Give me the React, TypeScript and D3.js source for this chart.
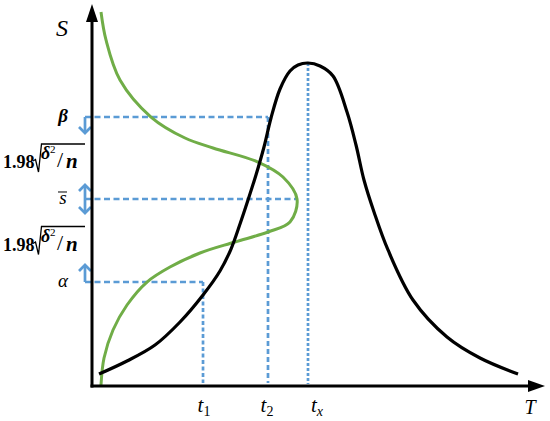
import React from "react";
import * as d3 from "d3";

const W = 550;
const H = 421;

// black curve (T, S) in data units
const blackT = [1.56, 7.78, 14.0, 19.56, 24.67, 28.44, 30.89, 32.89, 34.67, 36.44, 38.22, 39.78, 41.78, 44.0, 45.78, 48.0, 50.67, 53.56, 56.67, 58.67, 60.44, 62.67, 65.78, 71.33, 78.89, 86.22, 94.67];
const blackS = [3.2, 6.67, 10.93, 17.07, 24.27, 30.67, 36.53, 43.2, 49.6, 56.27, 63.73, 71.47, 79.2, 84.0, 85.6, 86.13, 85.33, 82.67, 73.07, 64.27, 54.93, 46.4, 36.27, 22.93, 13.07, 7.47, 3.2];

// green distribution curve (T, S)
const greenT = [2.0, 3.11, 6.22, 13.11, 20.67, 26.89, 36.89, 42.44, 45.56, 44.0, 39.11, 31.78, 24.0, 17.33, 12.22, 7.78, 4.67, 2.67, 2.0];
const greenS = [99.73, 92.27, 81.6, 71.73, 66.13, 63.47, 59.73, 55.73, 49.87, 43.73, 41.07, 38.4, 35.47, 31.73, 27.73, 21.6, 14.93, 7.47, 0.27];

// levels on S axis
const levelNames = ["β", "s", "α"];
const levelValues = [71.73, 49.87, 27.73];

// times on T axis
const timeSubs = ["1", "2", "x"];
const timeValues = [24.67, 39.11, 48.0];

const axisNames = ["S", "T"];
const marginParts = ["1.98", "δ", "2", "/", "n"];

const BLUE = "#5B9BD5";
const GREEN = "#70AD47";
const FONT = "'Liberation Serif', serif";

export default function App() {
  const x = d3.scaleLinear().domain([0, 100]).range([92, 542]);
  const y = d3.scaleLinear().domain([0, 100]).range([386, 11]);
  const line = d3
    .line<[number, number]>()
    .x((d) => x(d[0]))
    .y((d) => y(d[1]))
    .curve(d3.curveCatmullRom.alpha(0.5));

  const blackPts = blackT.map((t, i) => [t, blackS[i]] as [number, number]);
  const greenPts = greenT.map((t, i) => [t, greenS[i]] as [number, number]);

  const x0 = x(0);
  const y0 = y(0);
  const ax = x0 - 7; // annotation arrow column

  const [betaV, sV, alphaV] = levelValues;
  const [t1, t2, tx] = timeValues;
  const peakS = d3.max(blackS) as number;
  const greenPeakT = d3.max(greenT) as number;

  const chev = (cx: number, cy: number, dir: number) =>
    `M${cx - 6},${cy - 6 * dir} L${cx},${cy} L${cx + 6},${cy - 6 * dir}`;

  const mid1 = (y(betaV) + y(sV)) / 2;
  const mid2 = (y(sV) + y(alphaV)) / 2;

  const marginLabel = (m: number, key: string) => {
    const over = m - 14;
    const base = m + 10;
    return (
      <g key={key}>
        <text x={3} y={base} fontFamily={FONT} fontWeight="bold" fontSize={18}>
          {marginParts[0]}
        </text>
        <path
          d={`M33,${base - 7} L35.5,${base - 8.5} L38.5,${base + 4} L41.5,${over} L85,${over}`}
          fill="none"
          stroke="#000"
          strokeWidth={1.3}
        />
        <text x={41} y={base - 9} fontFamily={FONT} fontStyle="italic" fontWeight="bold" fontSize={18}>
          {marginParts[1]}
        </text>
        <text x={50} y={base - 15} fontFamily={FONT} fontSize={11}>
          {marginParts[2]}
        </text>
        <text x={57} y={base - 1} fontFamily={FONT} fontSize={22}>
          {marginParts[3]}
        </text>
        <text x={66} y={base} fontFamily={FONT} fontStyle="italic" fontWeight="bold" fontSize={21}>
          {marginParts[4]}
        </text>
      </g>
    );
  };

  const levelDy = [5, 5, 5];
  const timeDx = [1, -1, 9];

  return (
    <svg
      width={W}
      height={H}
      viewBox={`0 0 ${W} ${H}`}
      style={{ position: "absolute", left: 0, top: 0, background: "#fff" }}
    >
      {/* dashed guide lines */}
      <g stroke={BLUE} strokeWidth={2.7} fill="none">
        <line x1={ax} x2={x(t2)} y1={y(betaV)} y2={y(betaV)} strokeDasharray="6 3.5" />
        <line x1={ax} x2={x(greenPeakT)} y1={y(sV)} y2={y(sV)} strokeDasharray="6 3.5" />
        <line x1={ax} x2={x(t1)} y1={y(alphaV)} y2={y(alphaV)} strokeDasharray="6 3.5" />
        <line x1={x(t1)} x2={x(t1)} y1={y(alphaV)} y2={y0 - 3} strokeDasharray="4 2.5" />
        <line x1={x(t2)} x2={x(t2)} y1={y(betaV)} y2={y0 - 3} strokeDasharray="5 3" />
        <line x1={x(tx)} x2={x(tx)} y1={y(peakS)} y2={y0 - 2} strokeDasharray="3 2" />
        {/* annotation arrows */}
        <line x1={ax} x2={ax} y1={y(betaV)} y2={y(betaV) + 16} />
        <path d={chev(ax, y(betaV) + 16, 1)} />
        <line x1={ax} x2={ax} y1={y(sV) - 14} y2={y(sV) + 14} />
        <path d={chev(ax, y(sV) - 14, -1)} />
        <path d={chev(ax, y(sV) + 14, 1)} />
        <line x1={ax} x2={ax} y1={y(alphaV)} y2={y(alphaV) - 17} />
        <path d={chev(ax, y(alphaV) - 17, -1)} />
      </g>

      {/* curves */}
      <path d={line(greenPts) || ""} fill="none" stroke={GREEN} strokeWidth={3} />
      <path d={line(blackPts) || ""} fill="none" stroke="#000" strokeWidth={3.2} />

      {/* axes */}
      <g>
        <line x1={x0} x2={x0} y1={y0 + 1.5} y2={y(100) + 8} stroke="#000" strokeWidth={3} />
        <polygon points={`${x0},${y(100) - 7} ${x0 - 6},${y(100) + 11} ${x0 + 6},${y(100) + 11}`} fill="#000" />
        <line x1={x0 - 1.5} x2={x(100) - 12} y1={y0} y2={y0} stroke="#000" strokeWidth={3} />
        <polygon points={`${x(100) + 3},${y0} ${x(100) - 14},${y0 - 6} ${x(100) - 14},${y0 + 6}`} fill="#000" />
      </g>

      {/* axis names */}
      <text x={62} y={36} textAnchor="middle" fontFamily={FONT} fontStyle="italic" fontSize={24}>
        {axisNames[0]}
      </text>
      <text x={530} y={414} textAnchor="middle" fontFamily={FONT} fontStyle="italic" fontSize={20}>
        {axisNames[1]}
      </text>

      {/* time labels */}
      {timeValues.map((t, i) => (
        <text key={i} x={x(t) + timeDx[i]} y={412} textAnchor="middle" fontFamily={FONT} fontStyle="italic" fontSize={21}>
          t
          <tspan fontSize={14} dy={4} fontStyle={timeSubs[i] === "x" ? "italic" : "normal"}>
            {timeSubs[i]}
          </tspan>
        </text>
      ))}

      {/* level labels */}
      {levelValues.map((v, i) => (
        <text
          key={i}
          x={63}
          y={y(v) + levelDy[i]}
          textAnchor="middle"
          fontFamily={FONT}
          fontStyle="italic"
          fontWeight={i === 0 ? "bold" : "normal"}
          fontSize={19}
        >
          {levelNames[i]}
        </text>
      ))}
      <line x1={58} x2={67} y1={y(sV) - 7} y2={y(sV) - 7} stroke="#000" strokeWidth={1} />

      {marginLabel(mid1, "m1")}
      {marginLabel(mid2, "m2")}
    </svg>
  );
}
